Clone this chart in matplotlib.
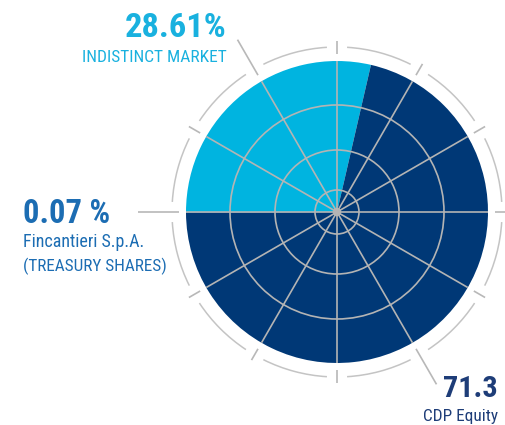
import numpy as np
import matplotlib.pyplot as plt
from matplotlib import font_manager
from matplotlib.patches import Arc, Circle

# shareholder data
holders = ["INDISTINCT MARKET", "Fincantieri S.p.A.", "(TREASURY SHARES)", "CDP Equity"]
shares = [28.61, 0.07, 71.3]
value_labels = ["28.61%", "0.07 %", "71.3"]
wedge_colors = ["#00B4E0", "#0E5FA8", "#003876"]
text_colors = ["#19B1DF", "#1C6DB3", "#1E3D78"]

W, H = 506, 425
cx, cy = 337, 425 - 212
R = 151
grid_col = "#B4B4B4"

# look for a narrow face, the original uses a condensed DIN-like font
names = {f.name for f in font_manager.fontManager.ttflist}
stretch = "normal"
family = "DejaVu Sans"
for cand in ["Liberation Sans Narrow", "Roboto Condensed", "Open Sans Condensed"]:
    if cand in names:
        family = cand
        break
else:
    for f in font_manager.fontManager.ttflist:
        if f.name == "DejaVu Sans" and "condensed" in str(f.stretch):
            stretch = "condensed"
            break

fig = plt.figure(figsize=(W / 100, H / 100), dpi=100)
ax = fig.add_axes([0, 0, 1, 1])

ax.pie(shares, colors=wedge_colors, startangle=77, counterclock=True,
       center=(cx, cy), radius=R, frame=True,
       wedgeprops=dict(linewidth=0))
ax.set_xlim(0, W)
ax.set_ylim(0, H)
ax.set_aspect("equal")
ax.axis("off")

# polar grid over the pie
for r in [22, 62, 107]:
    ax.add_patch(Circle((cx, cy), r, fill=False, ec=grid_col, lw=1.2, zorder=3))
for a in np.arange(0, 360, 30):
    t = np.radians(a)
    ax.plot([cx, cx + R * np.cos(t)], [cy, cy + R * np.sin(t)],
            color=grid_col, lw=1.2, zorder=3, solid_capstyle="butt")
ax.add_patch(Circle((cx, cy), 3.5, color=grid_col, zorder=4))

# outer ring with ticks
for a in np.arange(0, 360, 30):
    ax.add_patch(Arc((cx, cy), 330, 330, theta1=a + 3.5, theta2=a + 26.5,
                     color="#C4C4C4", lw=1.1, zorder=2))
    t = np.radians(a)
    if a in (120, 180, 300):
        r0, r1 = 158, 199
    else:
        r0, r1 = 158, 171
    ax.plot([cx + r0 * np.cos(t), cx + r1 * np.cos(t)],
            [cy + r0 * np.sin(t), cy + r1 * np.sin(t)],
            color="#B8B8B8", lw=1.2, zorder=2, solid_capstyle="butt")

renderer = fig.canvas.get_renderer()


def label(x, y, s, width, color, ha, bold=False):
    t = ax.text(x, H - y, s, ha=ha, va="baseline", fontsize=14, color=color,
                family=family, fontstretch=stretch,
                fontweight="bold" if bold else "normal")
    w = t.get_window_extent(renderer).width
    t.set_fontsize(14 * width / w)
    return t


label(227, 37, value_labels[0], 102, text_colors[0], "right", bold=True)
label(227, 62, holders[0], 145, text_colors[0], "right")

label(23, 223, value_labels[1], 87, text_colors[1], "left", bold=True)
label(23, 247, holders[1], 122, text_colors[1], "left")
label(23, 271, holders[2], 144, text_colors[1], "left")

label(498, 397, value_labels[2], 55, text_colors[2], "right", bold=True)
label(498, 421, holders[3], 75, text_colors[2], "right")

fig.savefig("out.png", dpi=100)
